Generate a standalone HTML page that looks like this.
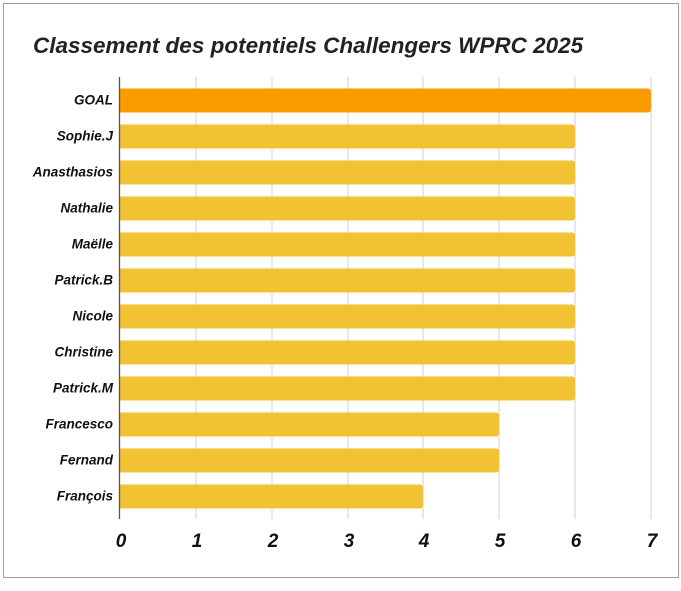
<!DOCTYPE html>
<html><head><style>
body{margin:0;background:#fff;}
svg{display:block;font-family:"Liberation Sans",Arial,sans-serif;}
</style></head><body>
<svg width="681" height="591" viewBox="0 0 681 591">
<rect x="3.5" y="3.5" width="675" height="574" fill="#fff" stroke="#9e9e9e" stroke-width="1"/>
<text x="33" y="53" font-size="22.5" font-weight="bold" font-style="italic" fill="#222">Classement des potentiels Challengers WPRC 2025</text>
<g stroke="#dcdcdc" stroke-width="1.3">
<line x1="196" y1="77" x2="196" y2="519"/><line x1="272" y1="77" x2="272" y2="519"/>
<line x1="348" y1="77" x2="348" y2="519"/><line x1="423" y1="77" x2="423" y2="519"/>
<line x1="499" y1="77" x2="499" y2="519"/><line x1="575" y1="77" x2="575" y2="519"/>
<line x1="651" y1="77" x2="651" y2="519"/>
</g>
<g>
<path d="M120 88.5H648a3 3 0 0 1 3 3V109.5a3 3 0 0 1-3 3H120Z" fill="#fb9b00"/>
<g fill="#f1c232">
<path d="M120 124.5H572a3 3 0 0 1 3 3V145.5a3 3 0 0 1-3 3H120Z"/>
<path d="M120 160.5H572a3 3 0 0 1 3 3V181.5a3 3 0 0 1-3 3H120Z"/>
<path d="M120 196.5H572a3 3 0 0 1 3 3V217.5a3 3 0 0 1-3 3H120Z"/>
<path d="M120 232.5H572a3 3 0 0 1 3 3V253.5a3 3 0 0 1-3 3H120Z"/>
<path d="M120 268.5H572a3 3 0 0 1 3 3V289.5a3 3 0 0 1-3 3H120Z"/>
<path d="M120 304.5H572a3 3 0 0 1 3 3V325.5a3 3 0 0 1-3 3H120Z"/>
<path d="M120 340.5H572a3 3 0 0 1 3 3V361.5a3 3 0 0 1-3 3H120Z"/>
<path d="M120 376.5H572a3 3 0 0 1 3 3V397.5a3 3 0 0 1-3 3H120Z"/>
<path d="M120 412.5H496a3 3 0 0 1 3 3V433.5a3 3 0 0 1-3 3H120Z"/>
<path d="M120 448.5H496a3 3 0 0 1 3 3V469.5a3 3 0 0 1-3 3H120Z"/>
<path d="M120 484.5H420a3 3 0 0 1 3 3V505.5a3 3 0 0 1-3 3H120Z"/>
</g>
</g>
<line x1="119.5" y1="77" x2="119.5" y2="519" stroke="#555" stroke-width="1.3"/>
<g font-size="13.5" font-weight="bold" font-style="italic" fill="#111" text-anchor="end">
<text x="113" y="104.5">GOAL</text><text x="113" y="140.5">Sophie.J</text>
<text x="113" y="176.5">Anasthasios</text><text x="113" y="212.5">Nathalie</text>
<text x="113" y="248.5">Maëlle</text><text x="113" y="284.5">Patrick.B</text>
<text x="113" y="320.5">Nicole</text><text x="113" y="356.5">Christine</text>
<text x="113" y="392.5">Patrick.M</text><text x="113" y="428.5">Francesco</text>
<text x="113" y="464.5">Fernand</text><text x="113" y="500.5">François</text>
</g>
<g font-size="19" font-weight="bold" font-style="italic" fill="#111" text-anchor="middle">
<text x="121" y="547">0</text><text x="197" y="547">1</text><text x="273" y="547">2</text>
<text x="349" y="547">3</text><text x="424" y="547">4</text><text x="500" y="547">5</text>
<text x="576" y="547">6</text><text x="652" y="547">7</text>
</g>
</svg>
</body></html>
